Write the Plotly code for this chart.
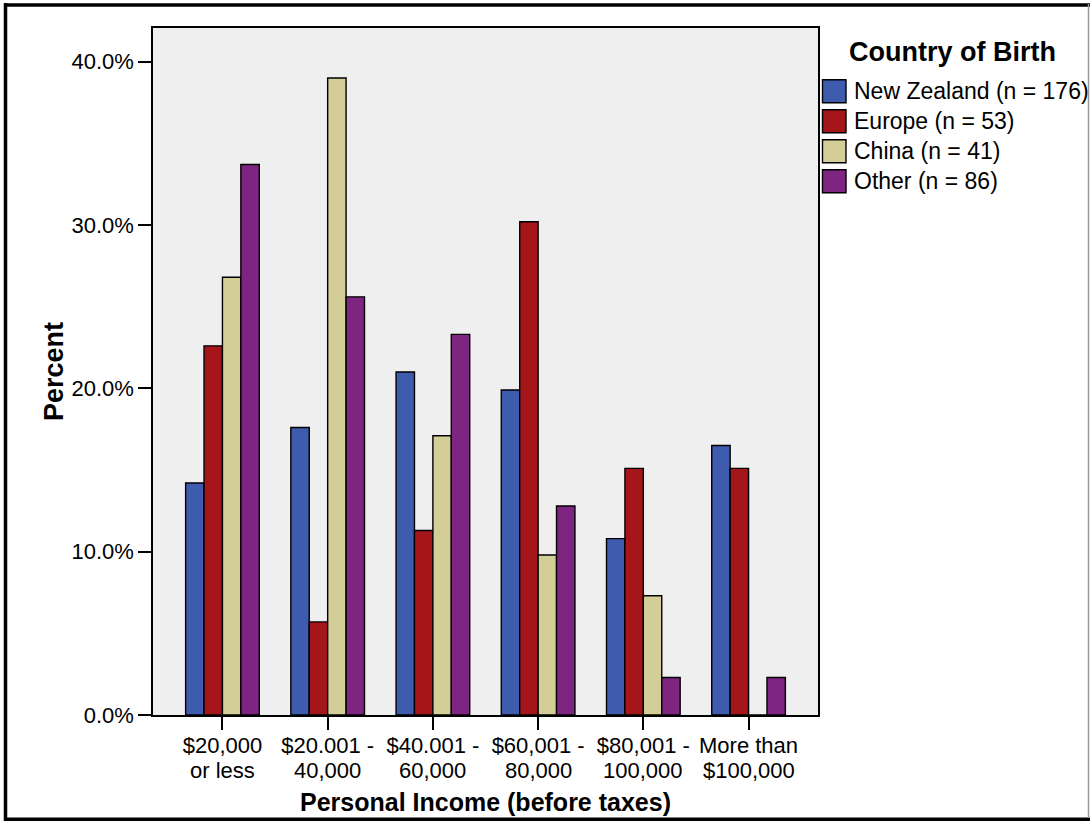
import plotly.graph_objects as go

categories_line1 = ["$20,000", "$20.001 -", "$40.001 -", "$60,001 -", "$80,001 -", "More than"]
categories_line2 = ["or less", "40,000", "60,000", "80,000", "100,000", "$100,000"]
series_names = ["New Zealand (n = 176)", "Europe (n = 53)", "China (n = 41)", "Other (n = 86)"]
nz = [14.2, 17.6, 21.0, 19.9, 10.8, 16.5]
europe = [22.6, 5.7, 11.3, 30.2, 15.1, 15.1]
china = [26.8, 39.0, 17.1, 9.8, 7.3, 0.0]
other = [33.7, 25.6, 23.3, 12.8, 2.3, 2.3]
y_ticks = [0, 10, 20, 30, 40]
y_tick_labels = ["0.0%", "10.0%", "20.0%", "30.0%", "40.0%"]
legend_title = "Country of Birth"
colors = ["#3E5BAD", "#A5161B", "#D3CE98", "#7D2580"]

W, H = 1090, 821
L, R, T, B = 153, 818, 28, 715

def px(x):
    return (x - L) / (R - L)

def py(y):
    return (B - y) / (B - T)

fig = go.Figure()
xs = list(range(len(categories_line1)))
for name, vals, col in zip(series_names, [nz, europe, china, other], colors):
    fig.add_trace(go.Bar(x=xs, y=vals, name=name,
                         marker=dict(color=col, line=dict(color="black", width=1.4))))

font_family = "Liberation Sans, Arial, sans-serif"
fig.update_layout(
    width=W, height=H,
    margin=dict(l=L, r=W - R, t=T, b=H - B, pad=0, autoexpand=False),
    paper_bgcolor="white",
    plot_bgcolor="#EFEFEF",
    barmode="group",
    bargap=0.30,
    bargroupgap=0,
    font=dict(family=font_family, color="black", size=22),
    showlegend=False,
    xaxis=dict(
        range=[-0.66, 5.66],
        tickmode="array", tickvals=xs, ticktext=categories_line1,
        ticks="outside", ticklen=13, tickwidth=1.5, tickcolor="black",
        ticklabelstandoff=-3, automargin=False,
        showline=True, linecolor="black", linewidth=1.5, mirror=True,
        showgrid=False, zeroline=False,
        tickfont=dict(size=22),
        title=dict(text="<b>Personal Income (before taxes)</b>", font=dict(size=25), standoff=36),
    ),
    yaxis=dict(
        range=[0, 42.06],
        tickmode="array", tickvals=y_ticks, ticktext=y_tick_labels,
        ticks="outside", ticklen=13, tickwidth=1.5, tickcolor="black",
        automargin=False,
        showline=True, linecolor="black", linewidth=1.5, mirror=True,
        showgrid=False, zeroline=False,
        tickfont=dict(size=22),
        title=dict(text="<b>Percent</b>", font=dict(size=27), standoff=0),
    ),
)

# second line of each category label (tight line spacing as in the original)
for i, txt in enumerate(categories_line2):
    fig.add_annotation(xref="x", yref="paper", x=xs[i], y=py(770), text=txt,
                       showarrow=False, xanchor="center", yanchor="middle", font=dict(size=22))

# manual legend (large swatches like the original)
fig.add_annotation(xref="paper", yref="paper", x=px(952), y=py(52), text="<b>" + legend_title + "</b>",
                   showarrow=False, xanchor="center", yanchor="middle", font=dict(size=27))
for i, (name, col) in enumerate(zip(series_names, colors)):
    cy = 91.3 + 30 * i
    fig.add_shape(type="rect", xref="paper", yref="paper",
                  x0=px(822.5), x1=px(846), y0=py(cy - 11.5), y1=py(cy + 11.5),
                  fillcolor=col, line=dict(color="black", width=1.4))
    fig.add_annotation(xref="paper", yref="paper", x=px(852), y=py(cy), text=name,
                       showarrow=False, xanchor="left", yanchor="middle", font=dict(size=23))

# outer frame
fig.add_shape(type="line", xref="paper", yref="paper", x0=px(5.5), x1=px(5.5), y0=py(3), y1=py(821),
              line=dict(color="black", width=3.5))
fig.add_shape(type="line", xref="paper", yref="paper", x0=px(4), x1=px(1090), y0=py(5), y1=py(5),
              line=dict(color="black", width=3.5))
fig.add_shape(type="line", xref="paper", yref="paper", x0=px(4), x1=px(1090), y0=py(819.5), y1=py(819.5),
              line=dict(color="black", width=4))
fig.add_shape(type="line", xref="paper", yref="paper", x0=px(1088.5), x1=px(1088.5), y0=py(4), y1=py(818),
              line=dict(color="#999999", width=1.5))

fig.write_html("out.html", config={"displayModeBar": False},
               post_script="document.body.style.margin='0';document.body.style.overflow='hidden';")
